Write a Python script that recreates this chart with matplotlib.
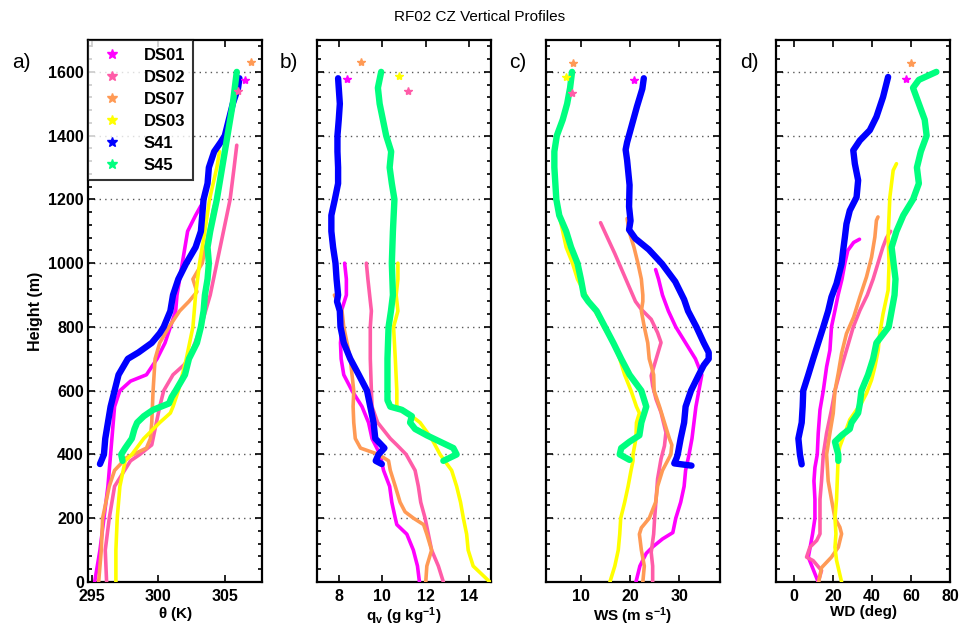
import matplotlib
matplotlib.use("Agg")
import matplotlib.pyplot as plt
from matplotlib.lines import Line2D
from matplotlib.ticker import MultipleLocator

plt.rcParams['font.family'] = ['Liberation Sans', 'DejaVu Sans']
plt.rcParams['mathtext.default'] = 'regular'

series_names = ['DS01', 'DS02', 'DS07', 'DS03', 'S41', 'S45']
series_colors = ['#FF00FF', '#FF5CA8', '#FF9A55', '#FFFF00', '#0000FF', '#00FF7F']

# ---------------- panel a: potential temperature (K) ----------------
a_DS01_h = [0, 100, 200, 300, 400, 500, 550, 600, 630, 650, 700, 750, 800, 850, 900, 1000, 1050, 1100, 1150, 1180]
a_DS01_v = [295.2, 295.6, 295.9, 296.2, 296.4, 296.6, 296.7, 297.1, 297.9, 299.1, 299.9, 300.5, 300.9, 301.3, 301.4, 301.8, 302.0, 302.2, 302.8, 303.2]
a_DS02_h = [0, 100, 200, 300, 380, 400, 430, 480, 550, 600, 650, 680, 700, 800, 900, 1000, 1100, 1200, 1300, 1370]
a_DS02_v = [296.1, 296.0, 296.3, 296.7, 297.9, 298.6, 299.5, 299.75, 300.1, 300.4, 301.1, 301.9, 302.3, 303.2, 303.9, 304.4, 304.9, 305.4, 305.7, 305.9]
a_DS07_h = [0, 100, 200, 300, 350, 390, 400, 420, 450, 500, 600, 700, 750, 800, 850, 880, 910, 950, 1000, 1100, 1180]
a_DS07_v = [295.5, 295.7, 295.8, 296.3, 296.7, 297.6, 298.1, 299.1, 299.4, 299.5, 299.6, 299.75, 300.1, 300.8, 301.6, 302.3, 302.9, 302.6, 303.3, 303.8, 304.2]
a_DS03_h = [0, 100, 200, 300, 380, 400, 450, 500, 530, 550, 600, 700, 800, 900, 1000, 1100, 1200, 1300, 1350]
a_DS03_v = [296.8, 296.8, 296.9, 297.1, 297.5, 298.0, 298.9, 300.1, 300.9, 301.1, 301.5, 302.1, 302.6, 302.8, 303.1, 303.5, 303.85, 304.4, 304.6]
a_S41_h = [370, 400, 450, 500, 550, 600, 650, 700, 720, 750, 780, 800, 850, 900, 950, 1000, 1050, 1100, 1150, 1200, 1250, 1300, 1350, 1380, 1400, 1450, 1500, 1550, 1580]
a_S41_v = [295.6, 295.9, 296.0, 296.2, 296.4, 296.7, 297.0, 297.7, 298.5, 299.5, 300.1, 300.4, 300.9, 301.1, 301.5, 302.1, 302.8, 303.2, 303.3, 303.4, 303.7, 303.8, 304.2, 304.7, 305.0, 305.3, 305.6, 306.0, 306.1]
a_S45_h = [380, 400, 420, 450, 480, 500, 520, 540, 560, 580, 600, 650, 700, 750, 800, 850, 900, 950, 1000, 1050, 1100, 1200, 1300, 1400, 1500, 1600]
a_S45_v = [297.3, 297.2, 297.5, 298.0, 298.2, 298.4, 298.9, 299.6, 300.8, 301.0, 301.3, 302.0, 302.3, 302.9, 303.2, 303.4, 303.5, 303.7, 303.8, 303.7, 303.9, 304.4, 304.8, 305.2, 305.6, 305.9]
a_extra_series = ['DS01', 'DS02', 'DS07']
a_extra_h = [1575, 1540, 1630]
a_extra_v = [306.5, 306.0, 307.0]

# ---------------- panel b: water vapour mixing ratio (g/kg) ----------------
b_DS01_h = [0, 50, 100, 150, 180, 200, 250, 300, 350, 400, 450, 500, 550, 600, 650, 700, 750, 800, 850, 900, 950, 1000]
b_DS01_v = [11.71, 11.62, 11.43, 11.13, 10.67, 10.6, 10.44, 10.34, 10.06, 9.9, 9.53, 9.37, 9.07, 8.61, 8.23, 8.11, 8.08, 8.15, 8.12, 8.35, 8.35, 8.27]
b_DS02_h = [0, 50, 100, 150, 200, 250, 300, 350, 400, 430, 450, 500, 550, 600, 700, 800, 850, 900, 950, 1000]
b_DS02_v = [12.81, 12.58, 12.27, 12.12, 11.97, 11.77, 11.66, 11.51, 11.1, 10.67, 10.37, 9.79, 9.53, 9.5, 9.45, 9.45, 9.5, 9.42, 9.34, 9.27]
b_DS07_h = [0, 50, 100, 150, 180, 200, 220, 250, 300, 350, 380, 400, 420, 450, 500, 550, 600, 650, 700, 750, 800, 850, 900]
b_DS07_v = [12.0, 12.05, 12.27, 12.05, 11.9, 11.44, 11.05, 10.82, 10.6, 10.37, 10.29, 9.83, 9.0, 8.76, 8.69, 8.66, 8.69, 8.61, 8.53, 8.38, 8.23, 8.15, 7.8]
b_DS03_h = [0, 50, 100, 150, 200, 250, 300, 350, 400, 450, 500, 540, 550, 600, 700, 800, 850, 900, 950, 1000]
b_DS03_v = [14.95, 14.18, 13.95, 13.88, 13.73, 13.6, 13.42, 13.19, 12.66, 12.27, 11.74, 10.98, 10.67, 10.67, 10.6, 10.52, 10.72, 10.64, 10.72, 10.72]
b_S41_h = [370, 380, 400, 420, 450, 500, 550, 600, 650, 700, 750, 800, 850, 880, 900, 950, 1000, 1050, 1100, 1150, 1200, 1250, 1300, 1350, 1400, 1450, 1500, 1550, 1580]
b_S41_v = [9.98, 9.7, 9.83, 10.1, 9.68, 9.6, 9.45, 9.3, 8.92, 8.53, 8.23, 8.08, 8.05, 7.92, 7.97, 7.9, 7.85, 7.74, 7.66, 7.66, 7.82, 7.97, 7.97, 7.94, 7.94, 8.0, 8.05, 8.0, 7.97]
b_S45_h = [380, 400, 420, 440, 460, 480, 500, 520, 540, 550, 570, 600, 700, 800, 850, 900, 1000, 1100, 1200, 1250, 1300, 1350, 1400, 1450, 1500, 1550, 1600]
b_S45_v = [12.81, 13.42, 13.27, 12.66, 12.05, 11.51, 11.28, 11.36, 10.9, 10.37, 10.24, 10.24, 10.24, 10.29, 10.4, 10.49, 10.44, 10.49, 10.56, 10.44, 10.34, 10.41, 10.18, 10.03, 9.88, 9.8, 9.95]
b_extra_series = ['DS01', 'DS02', 'DS07', 'DS03']
b_extra_h = [1577, 1539, 1631, 1588]
b_extra_v = [8.38, 11.18, 9.04, 10.79]

# ---------------- panel c: wind speed (m/s) ----------------
c_DS01_h = [0, 50, 90, 110, 135, 155, 200, 250, 300, 350, 400, 450, 500, 550, 600, 650, 700, 750, 800, 850, 900, 950, 980]
c_DS01_v = [21.2, 22.0, 23.3, 24.6, 26.6, 28.7, 29.3, 30.3, 31.0, 31.3, 32.0, 32.6, 33.0, 33.4, 34.0, 34.6, 33.3, 31.3, 29.3, 27.8, 26.6, 25.8, 25.2]
c_DS02_h = [0, 50, 93, 150, 200, 260, 323, 386, 427, 469, 532, 573, 615, 647, 699, 751, 782, 824, 855, 880, 930, 980, 1030, 1080, 1127]
c_DS02_v = [24.6, 24.6, 24.3, 24.8, 25.0, 25.3, 25.6, 26.3, 27.0, 27.3, 26.3, 25.3, 24.6, 24.3, 25.3, 26.3, 25.6, 24.3, 22.3, 21.1, 19.7, 18.3, 16.9, 15.4, 14.0]
c_DS07_h = [0, 50, 100, 150, 170, 200, 250, 300, 350, 400, 430, 450, 500, 550, 600, 650, 700, 750, 800, 850, 880, 900, 950, 1000, 1050, 1100, 1140]
c_DS07_v = [22.6, 22.9, 22.3, 21.9, 22.3, 23.9, 25.2, 25.6, 26.6, 28.3, 28.5, 28.0, 27.0, 26.0, 24.9, 24.8, 23.9, 23.6, 22.9, 22.3, 22.6, 22.6, 22.3, 21.6, 20.8, 19.8, 19.4]
c_DS03_h = [0, 50, 100, 150, 200, 250, 300, 350, 380, 400, 450, 500, 530, 550, 600, 650, 700, 750, 800, 850, 900, 950, 1000, 1050, 1100, 1150, 1200, 1250, 1300]
c_DS03_v = [15.9, 16.9, 17.6, 17.9, 18.1, 18.9, 19.6, 20.2, 20.6, 20.6, 21.2, 21.3, 21.9, 21.3, 20.2, 18.9, 17.9, 16.6, 14.6, 12.9, 11.0, 9.3, 8.3, 7.0, 6.3, 5.6, 5.1, 4.8, 4.8]
c_S41_h = [365, 372, 390, 400, 450, 500, 550, 600, 650, 680, 700, 720, 750, 800, 850, 886, 942, 998, 1043, 1077, 1105, 1133, 1177, 1245, 1323, 1356, 1379, 1435, 1491, 1547, 1580]
c_S41_v = [32.5, 29.0, 29.5, 29.7, 30.3, 31.0, 31.3, 32.4, 34.0, 35.0, 36.0, 36.0, 35.0, 33.5, 31.8, 31.0, 29.2, 26.5, 23.8, 21.1, 19.8, 20.1, 19.8, 19.9, 19.4, 19.1, 19.4, 20.4, 21.4, 22.5, 22.8]
c_S45_h = [383, 400, 420, 440, 460, 500, 530, 550, 600, 650, 700, 750, 800, 850, 880, 900, 950, 1000, 1050, 1100, 1150, 1200, 1250, 1300, 1350, 1400, 1450, 1500, 1550, 1600]
c_S45_v = [19.9, 17.9, 18.2, 19.9, 21.9, 22.3, 22.9, 23.3, 22.3, 19.9, 18.2, 16.6, 14.9, 13.2, 11.5, 10.6, 10.0, 9.3, 8.0, 7.0, 5.6, 5.0, 4.8, 4.6, 4.6, 5.1, 6.3, 7.2, 7.8, 8.2]
c_extra_series = ['DS01', 'DS02', 'DS07', 'DS03']
c_extra_h = [1575, 1535, 1627, 1583]
c_extra_v = [20.8, 8.2, 8.3, 7.0]

# ---------------- panel d: wind direction (deg) ----------------
d_DS01_h = [0, 78, 104, 151, 200, 259, 317, 359, 400, 467, 540, 600, 675, 727, 800, 852, 900, 950, 1000, 1040, 1065, 1075]
d_DS01_v = [12.3, 7.2, 8.0, 9.4, 10.6, 10.6, 10.1, 10.6, 11.8, 12.3, 13.2, 14.9, 16.6, 18.3, 19.1, 20.9, 22.5, 24.5, 26.0, 27.5, 30.5, 33.5]
d_DS02_h = [0, 36, 67, 78, 109, 130, 151, 200, 259, 317, 400, 467, 540, 600, 657, 727, 800, 852, 900, 950, 1000, 1050, 1080, 1100]
d_DS02_v = [12.3, 14.0, 9.7, 6.3, 8.0, 11.5, 13.2, 13.2, 13.2, 14.0, 14.9, 16.6, 19.1, 20.9, 23.4, 26.8, 30.3, 33.7, 37.5, 40.5, 43.0, 45.5, 47.4, 49.5]
d_DS07_h = [0, 45, 78, 109, 151, 172, 200, 259, 317, 400, 467, 529, 600, 655, 717, 779, 831, 894, 957, 1019, 1082, 1134, 1145]
d_DS07_v = [12.5, 14.0, 19.1, 22.6, 24.3, 23.4, 20.9, 19.1, 17.4, 16.6, 18.3, 20.0, 20.9, 22.6, 24.3, 26.8, 30.5, 33.7, 37.1, 39.7, 41.4, 42.2, 43.0]
d_DS03_h = [0, 68, 109, 151, 200, 259, 321, 400, 425, 467, 509, 540, 561, 592, 634, 675, 727, 779, 841, 915, 998, 1082, 1207, 1291, 1312]
d_DS03_v = [24.3, 21.7, 20.9, 21.4, 20.9, 21.7, 22.1, 22.6, 23.4, 26.0, 28.5, 32.0, 34.5, 37.1, 39.7, 41.4, 43.1, 43.9, 45.6, 48.2, 48.7, 48.2, 49.1, 50.8, 52.5]
d_S41_h = [369, 400, 450, 500, 550, 600, 650, 700, 750, 800, 850, 894, 936, 998, 1040, 1082, 1123, 1165, 1207, 1260, 1312, 1354, 1385, 1417, 1459, 1521, 1584]
d_S41_v = [3.8, 2.9, 2.1, 3.8, 4.3, 4.6, 7.2, 9.7, 12.3, 14.9, 17.4, 19.1, 21.7, 24.3, 25.1, 26.0, 26.8, 28.5, 32.0, 32.8, 31.1, 30.3, 33.7, 38.8, 42.2, 45.6, 48.2]
d_S45_h = [380, 400, 420, 440, 460, 480, 500, 530, 560, 600, 650, 700, 750, 800, 850, 900, 950, 1000, 1050, 1100, 1150, 1200, 1250, 1300, 1350, 1400, 1450, 1500, 1550, 1575, 1600]
d_S45_v = [22.6, 22.6, 21.7, 20.9, 24.3, 28.5, 29.4, 32.8, 33.7, 34.5, 37.9, 40.5, 42.2, 48.5, 50.0, 51.5, 52.0, 51.0, 50.0, 52.5, 56.0, 61.0, 64.0, 63.0, 65.0, 68.0, 67.0, 64.0, 61.0, 64.0, 73.0]
d_extra_series = ['DS01', 'DS07']
d_extra_h = [1577, 1629]
d_extra_v = [57.5, 60.2]

# ---------------- axis settings ----------------
panel_letters = ['a)', 'b)', 'c)', 'd)']
x_labels = [r'$\theta$ (K)', r'q$_v$ (g kg$^{-1}$)', r'WS (m s$^{-1}$)', 'WD (deg)']
x_limits = [(294.7, 307.8), (7, 15), (2.9, 38.3), (-9.4, 80)]
x_ticks = [[295, 300, 305], [8, 10, 12, 14], [10, 20, 30], [0, 20, 40, 60, 80]]
y_ticks = [0, 200, 400, 600, 800, 1000, 1200, 1400, 1600]
title = 'RF02 CZ Vertical Profiles'

panels = [
    {'DS01': (a_DS01_v, a_DS01_h), 'DS02': (a_DS02_v, a_DS02_h), 'DS07': (a_DS07_v, a_DS07_h),
     'DS03': (a_DS03_v, a_DS03_h), 'S41': (a_S41_v, a_S41_h), 'S45': (a_S45_v, a_S45_h)},
    {'DS01': (b_DS01_v, b_DS01_h), 'DS02': (b_DS02_v, b_DS02_h), 'DS07': (b_DS07_v, b_DS07_h),
     'DS03': (b_DS03_v, b_DS03_h), 'S41': (b_S41_v, b_S41_h), 'S45': (b_S45_v, b_S45_h)},
    {'DS01': (c_DS01_v, c_DS01_h), 'DS02': (c_DS02_v, c_DS02_h), 'DS07': (c_DS07_v, c_DS07_h),
     'DS03': (c_DS03_v, c_DS03_h), 'S41': (c_S41_v, c_S41_h), 'S45': (c_S45_v, c_S45_h)},
    {'DS01': (d_DS01_v, d_DS01_h), 'DS02': (d_DS02_v, d_DS02_h), 'DS07': (d_DS07_v, d_DS07_h),
     'DS03': (d_DS03_v, d_DS03_h), 'S41': (d_S41_v, d_S41_h), 'S45': (d_S45_v, d_S45_h)},
]
extras = [
    (a_extra_series, a_extra_v, a_extra_h),
    (b_extra_series, b_extra_v, b_extra_h),
    (c_extra_series, c_extra_v, c_extra_h),
    (d_extra_series, d_extra_v, d_extra_h),
]

W, H = 959, 633
fig = plt.figure(figsize=(W / 100, H / 100), dpi=100)
lefts = [88, 317, 546, 776]
letter_x = [12, 280, 509, 740]
ax_w, ax_top, ax_bot = 174, 40, 582
color_of = dict(zip(series_names, series_colors))

for i in range(4):
    ax = fig.add_axes([lefts[i] / W, 1 - ax_bot / H, ax_w / W, (ax_bot - ax_top) / H])
    for name in series_names:
        v, h = panels[i][name]
        lw = 4.6 if name.startswith('S4') else 2.6
        ax.plot(v, h, color=color_of[name], lw=lw, solid_joinstyle='round',
                solid_capstyle='round', zorder=3)
    for name, v, h in zip(*extras[i]):
        ax.plot([v], [h], ls='none', marker='*', ms=6, color=color_of[name], zorder=3)
    ax.set_xlim(*x_limits[i])
    ax.set_ylim(0, 1700)
    ax.set_xticks(x_ticks[i])
    ax.set_yticks(y_ticks)
    ax.yaxis.set_minor_locator(MultipleLocator(40))
    ax.tick_params(which='both', direction='in', top=True, right=True, width=1.2)
    ax.tick_params(which='major', length=5, labelsize=11.5)
    ax.tick_params(axis='x', which='major', pad=5)
    ax.tick_params(axis='y', which='major', pad=3)
    ax.tick_params(which='minor', length=3)
    for lab in ax.get_xticklabels() + ax.get_yticklabels():
        lab.set_fontweight('bold')
    if i > 0:
        ax.set_yticklabels([])
    ax.yaxis.grid(True, which='major', linestyle=(0, (1, 3)), color='0.35', lw=1.0)
    for sp in ax.spines.values():
        sp.set_linewidth(1.6)
    ax.set_xlabel(x_labels[i], fontsize=11, fontweight='bold', labelpad=1)
    fig.text(letter_x[i] / W, 1 - 62 / H, panel_letters[i], fontsize=15, va='center', ha='left')
    if i == 0:
        ax.set_ylabel('Height (m)', fontsize=11.5, fontweight='bold', labelpad=4)
        handles = [Line2D([], [], ls='none', marker='*', ms=7, color=color_of[n]) for n in series_names]
        leg = ax.legend(handles, series_names, loc='upper left', borderaxespad=0,
                        frameon=True, fancybox=False, edgecolor='black',
                        prop={'size': 12, 'weight': 'bold'}, handletextpad=0.9,
                        labelspacing=0.42, borderpad=0.45, handlelength=2.0)
        leg.get_frame().set_linewidth(1.5)
        leg.set_zorder(5)

fig.text(480 / W, 1 - 17 / H, title, fontsize=11, ha='center', va='center')
fig.savefig('out.png', dpi=100)
